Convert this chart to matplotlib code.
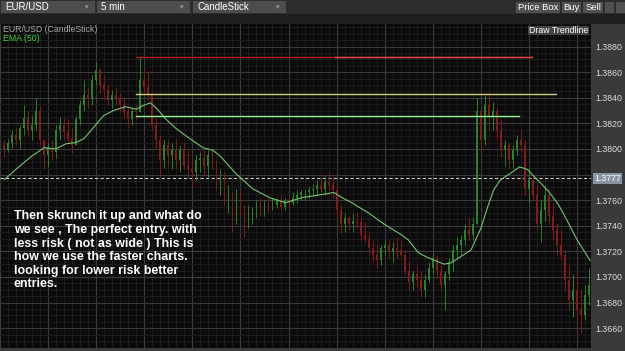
#!/usr/bin/env python3
"""
EUR/USD 5 min chart screenshot recreation
Candles, EMA(50), trendlines and note text on a dark platform theme
"""

import numpy as np
import matplotlib
matplotlib.use("Agg")
import matplotlib.pyplot as plt
from matplotlib.patches import Rectangle
from matplotlib.transforms import blended_transform_factory

# 15 minute candles, prices given in pips above 1.3600
first_open_pips = 203
high_pips = [207, 208, 215, 216, 219, 234, 230, 226, 240, 234,
             207, 205, 207, 219, 225, 224, 223, 216, 226, 238,
             254, 248, 258, 268, 263, 258, 250, 246, 248, 244,
             240, 234, 232, 234, 272, 263, 260, 242, 224, 211,
             208, 207, 205, 208, 203, 205, 199, 191, 195, 198,
             199, 199, 201, 191, 184, 182, 172, 166, 169, 168,
             156, 156, 155, 160, 162, 160, 162, 162, 162, 163,
             162, 164, 166, 168, 168, 169, 171, 173, 176, 177,
             179, 182, 177, 172, 156, 150, 148, 150, 151, 147,
             143, 135, 129, 125, 125, 129, 129, 127, 131, 129,
             120, 112, 105, 109, 105, 102, 112, 119, 117, 109,
             105, 115, 125, 131, 133, 141, 146, 147, 240, 230,
             242, 244, 237, 232, 223, 207, 205, 203, 211, 215,
             207, 185, 180, 172, 160, 172, 169, 156, 142, 137,
             121, 109, 102, 103, 90, 94, 107, 102]
low_pips = [194, 198, 201, 203, 201, 211, 211, 207, 215, 203,
            184, 187, 191, 193, 207, 208, 205, 197, 203, 219,
            230, 232, 234, 250, 244, 240, 234, 232, 234, 230,
            224, 217, 219, 223, 229, 242, 238, 215, 201, 178,
            185, 187, 184, 185, 182, 184, 177, 170, 176, 182,
            180, 177, 184, 168, 164, 156, 150, 135, 141, 148,
            131, 138, 141, 146, 148, 148, 151, 152, 154, 152,
            152, 154, 156, 158, 160, 160, 162, 163, 164, 166,
            164, 168, 162, 148, 134, 135, 137, 135, 138, 129,
            127, 117, 112, 107, 109, 117, 115, 112, 115, 116,
            102, 90, 90, 91, 84, 84, 96, 102, 99, 90,
            74, 98, 105, 115, 117, 125, 129, 129, 141, 199,
            203, 215, 215, 207, 194, 187, 184, 185, 195, 198,
            164, 158, 160, 137, 127, 144, 141, 129, 117, 113,
            90, 74, 69, 66, 56, 66, 78, 82]
close_pips = [199, 205, 211, 207, 216, 224, 215, 219, 230, 207,
              195, 201, 198, 215, 219, 213, 208, 203, 223, 234,
              242, 240, 254, 262, 250, 246, 238, 242, 240, 234,
              229, 223, 230, 229, 254, 248, 242, 219, 207, 191,
              203, 195, 199, 191, 199, 187, 184, 182, 191, 193,
              187, 195, 187, 172, 177, 160, 164, 144, 164, 152,
              148, 151, 152, 156, 152, 158, 156, 156, 160, 155,
              160, 158, 162, 164, 166, 166, 168, 169, 172, 169,
              174, 172, 168, 152, 141, 146, 141, 144, 143, 133,
              130, 123, 117, 113, 123, 125, 120, 123, 121, 117,
              105, 96, 102, 98, 90, 98, 107, 115, 105, 94,
              102, 112, 121, 125, 129, 137, 133, 141, 230, 207,
              234, 226, 230, 215, 199, 203, 191, 199, 207, 203,
              169, 176, 164, 141, 152, 164, 148, 137, 125, 117,
              98, 82, 90, 74, 70, 86, 94, 90]

# EMA(50): hours since Oct 19 00:00 and pips above 1.3600
ema_hours = [0.27, 1.08, 1.94, 2.75, 3.49, 4.11, 4.73, 5.23, 5.85, 6.46,
             7.08, 7.83, 8.51, 8.94, 9.38, 9.75, 10.37, 10.98, 11.85, 12.66,
             13.28, 13.77, 14.70, 15.75, 16.81, 17.80, 18.85, 19.90, 20.83, 21.33,
             21.94, 22.99, 23.99, 25.04, 25.47, 26.09, 26.71, 27.70, 28.14, 28.76,
             29.38, 30.00, 30.43, 30.80, 31.23, 31.85, 32.41, 32.90, 33.52, 34.14,
             34.76, 35.13, 36.00, 36.81]
ema_pips = [176, 185, 194, 201, 200, 204, 205, 208, 217, 226,
            230, 233, 231, 234, 236, 232, 223, 216, 208, 201,
            199, 194, 181, 169, 162, 158, 162, 164, 166, 162,
            158, 150, 141, 133, 129, 119, 115, 110, 111, 116,
            121, 138, 155, 168, 176, 181, 186, 184, 176, 168,
            158, 150, 129, 113]

# horizontal trendlines: (price, start hour, end hour, colour)
trend_prices = [1.3872, 1.3872, 1.3843, 1.38255]
trend_start = [8.51, 20.89, 8.51, 8.51]
trend_end = [33.21, 33.21, 34.70, 32.39]
trend_colors = ['#b01c1c', '#d84a4a', '#cfcf88', '#92f092']

dashed_price = 1.3777
time_labels = ['Oct 19', '03:00', '06:00', '09:00', '12:00', '15:00', '18:00',
               '21:00', 'Oct 20', '03:00', '06:00', '09:00', '12:']
time_hours = [0, 3, 6, 9, 12, 15, 18, 21, 24, 27, 30, 33, 36]

note = ("Then skrunch it up and what do\n"
        "we see , The perfect entry. with\n"
        "less risk ( not as wide ) This is\n"
        "how we use the faster charts.\n"
        "looking for lower risk better\n"
        "entries.")

W, H = 625, 351
UI_FONT = ['Liberation Sans', 'DejaVu Sans']


def fx(x):
    return x / W


def fy(y):
    return 1 - y / H


def box(fig, x0, y0, x1, y1, color, z=1):
    fig.add_artist(Rectangle((fx(x0), fy(y1)), (x1 - x0) / W, (y1 - y0) / H,
                             transform=fig.transFigure, facecolor=color,
                             edgecolor='none', zorder=z))


def main():
    fig = plt.figure(figsize=(6.25, 3.51), dpi=100)
    fig.patch.set_facecolor('#1b1b1b')

    # chart panel: pixels x 0..591, y 24..348
    ax = fig.add_axes([0, fy(348), fx(591), (348 - 24) / H])
    ax.set_facecolor('#0b0b0b')

    o = np.array([first_open_pips] + close_pips[:-1]) / 10000 + 1.36
    h = np.array(high_pips) / 10000 + 1.36
    l = np.array(low_pips) / 10000 + 1.36
    c = np.array(close_pips) / 10000 + 1.36
    t = 0.25 * (np.arange(len(c)) + 1)
    up = c >= o
    cols = np.where(up, '#2a812a', '#821c1c')

    ax.vlines(t, l, h, colors=cols, linewidth=0.7, zorder=3)
    body = np.maximum(np.abs(c - o), 0.00006)
    ax.bar(t, body, bottom=np.minimum(o, c), width=0.11, color=cols,
           linewidth=0, zorder=3)

    ema = np.array(ema_pips) / 10000 + 1.36
    ax.plot(ema_hours, ema, color='#72c272', linewidth=0.8, zorder=4)

    for p, s, e, col in zip(trend_prices, trend_start, trend_end, trend_colors):
        ax.plot([s, e], [p, p], color=col, linewidth=1.0, zorder=5)

    ax.axhline(dashed_price, color='#c8c8c8', linewidth=0.8,
               linestyle=(0, (3, 2)), zorder=2)

    # pixel y 24 and 348 mapped to price
    ax.set_ylim(1.36445, 1.38976)
    ax.set_xlim(0.272, 36.87)

    ax.set_xticks(np.arange(0, 37, 3))
    ax.set_xticks(np.arange(0, 37, 0.5), minor=True)
    yt = np.arange(1.3660, 1.3890, 0.002)
    ax.set_yticks(yt)
    ax.set_yticks(np.arange(1.3650, 1.3900, 0.0005), minor=True)
    ax.grid(which='major', color='#3c3c3c', linewidth=0.8, zorder=0)
    ax.grid(which='minor', color='#1f1f1f', linewidth=0.6, zorder=0)
    ax.set_axisbelow(True)
    ax.tick_params(axis='x', which='both', length=0, labelbottom=False)
    ax.yaxis.tick_right()
    ax.tick_params(axis='y', which='both', length=0, pad=3,
                   labelsize=6.3, labelcolor='#dcdcdc')
    # 1.3780 sits under the last-price box, so it is left blank
    ax.set_yticklabels(['' if abs(v - 1.3780) < 1e-6 else f'{v:.4f}'
                        for v in yt], family=UI_FONT)
    for s in ax.spines.values():
        s.set_visible(False)

    # note text
    ax.text(fx(14) / fx(591), (348 - 210.5) / 324, note, transform=ax.transAxes,
            color='white', fontsize=8.9, fontweight='bold', family=UI_FONT,
            va='top', ha='left', linespacing=1.17, zorder=6)

    # right price panel
    box(fig, 591, 24, 625, 351, '#3a3a3a', z=-1)
    fig.text(fx(594), fy(178.4), '1.3777', fontsize=6.3, color='white',
             family=UI_FONT, va='center', ha='left', zorder=5,
             bbox=dict(boxstyle='square,pad=0.15', facecolor='#8894a0',
                       edgecolor='none'))

    # top toolbar
    box(fig, 0, 0, 625, 14, '#2c2c2c')
    for x0, x1, label in [(1, 95, 'EUR/USD'), (97, 190, '5 min'),
                          (193, 286, 'CandleStick')]:
        box(fig, x0, 1, x1, 13, '#4d4d4d', z=2)
        fig.text(fx(x0 + 4), fy(7.2), label, fontsize=7, color='white',
                 family=UI_FONT, va='center', ha='left', zorder=3)
        fig.text(fx(x1 - 8), fy(7.2), '\u25be', fontsize=5, color='#9a9a9a',
                 family='DejaVu Sans', va='center', ha='center', zorder=3)
    for x0, x1, label in [(516, 560, 'Price Box'), (562, 581, 'Buy'),
                          (583, 603, 'Sell'), (605, 614, ''), (616, 625, '')]:
        box(fig, x0, 2, x1, 13, '#505050', z=2)
        if label:
            fig.text(fx((x0 + x1) / 2), fy(7.5), label, fontsize=6.8,
                     color='white', family=UI_FONT, va='center',
                     ha='center', zorder=3)

    # time axis row
    box(fig, 0, 14, 625, 24, '#1e1e1e')
    tr = blended_transform_factory(ax.transData, fig.transFigure)
    for hr, lab in zip(time_hours, time_labels):
        ax.text(hr + 0.12, fy(19), lab, transform=tr, fontsize=6.5,
                color='#d8d8d8', family=UI_FONT, va='center', ha='left',
                clip_on=False)

    # chart captions
    fig.text(fx(3), fy(29), 'EUR/USD (CandleStick)', fontsize=6.3,
             color='#a8a8a8', family=UI_FONT, va='center', ha='left', zorder=5)
    fig.text(fx(3), fy(38.5), 'EMA (50)', fontsize=6.3, color='#3fd43f',
             family=UI_FONT, va='center', ha='left', zorder=5)

    box(fig, 528, 26, 589, 35, '#444444', z=4)
    fig.text(fx(558.5), fy(30.5), 'Draw Trendline', fontsize=6.3,
             color='white', family=UI_FONT, va='center', ha='center', zorder=5)

    box(fig, 0, 348, 625, 351, '#3a3a3a')

    fig.savefig('out.png', dpi=100, facecolor=fig.get_facecolor())


if __name__ == "__main__":
    main()
